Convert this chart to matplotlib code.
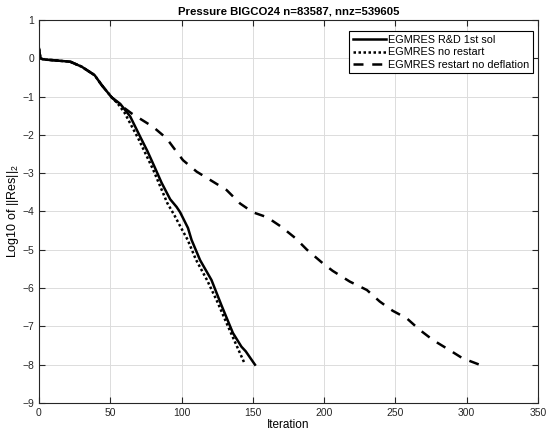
import matplotlib
matplotlib.use("Agg")
import matplotlib.pyplot as plt

plt.rcParams['font.family'] = ['Liberation Sans', 'DejaVu Sans']

# Solid: EGMRES R&D 1st sol
it_rd = [0, 1, 3, 10, 22, 30, 39, 44, 51, 57, 64, 71, 76, 81, 86, 92, 96.5, 99, 104.5, 107, 113, 121, 128, 136, 142, 145, 151.5]
res_rd = [0.25, 0.0, -0.03, -0.05, -0.09, -0.22, -0.44, -0.70, -1.02, -1.19, -1.52, -2.05, -2.42, -2.83, -3.25, -3.68, -3.88, -4.02, -4.43, -4.74, -5.27, -5.79, -6.45, -7.17, -7.53, -7.65, -8.0]

# Dotted: EGMRES no restart
it_nr = [0, 1, 3, 10, 22, 30, 39, 44, 51, 55, 60, 70, 80, 90, 95, 100, 104.3, 110, 118, 125, 132, 138, 144]
res_nr = [0.25, 0.0, -0.03, -0.05, -0.09, -0.22, -0.44, -0.70, -1.02, -1.17, -1.42, -2.12, -2.90, -3.78, -4.10, -4.45, -4.74, -5.25, -5.80, -6.35, -6.95, -7.45, -7.95]

# Dashed: EGMRES restart no deflation
it_nd = [0, 1, 3, 10, 22, 30, 39, 44, 51, 57, 65, 80, 89.5, 96.5, 101, 110.6, 122, 131.6, 141, 150, 160, 170, 180, 188,
         199, 206, 218, 230, 239, 248, 258, 267, 276.5, 288, 297, 309]
res_nd = [0.25, 0.0, -0.03, -0.05, -0.09, -0.22, -0.44, -0.70, -1.02, -1.22, -1.44, -1.79, -2.09, -2.44, -2.66, -2.96, -3.22, -3.44, -3.79, -4.02, -4.15, -4.40, -4.70, -5.0,
          -5.35, -5.55, -5.83, -6.05, -6.35, -6.59, -6.79, -7.09, -7.36, -7.62, -7.83, -8.0]

title = "Pressure BIGCO24 n=83587, nnz=539605"
labels = ["EGMRES R&D 1st sol", "EGMRES no restart", "EGMRES restart no deflation"]
xticks = [0, 50, 100, 150, 200, 250, 300, 350]
yticks = [1, 0, -1, -2, -3, -4, -5, -6, -7, -8, -9]

fig = plt.figure(figsize=(5.46, 4.30), dpi=100)
ax = fig.add_axes([0.0714, 0.0628, 0.9139, 0.8907])

ax.plot(it_rd, res_rd, color='black', lw=1.8, ls='-', label=labels[0])
ax.plot(it_nr, res_nr, color='black', lw=1.8, ls=(0, (1, 1)), label=labels[1])
ax.plot(it_nd, res_nd, color='black', lw=1.8, ls=(0, (4, 3.5)), label=labels[2])

ax.set_xlim(0, 350)
ax.set_ylim(-9, 1)
ax.set_xticks(xticks)
ax.set_yticks(yticks)
ax.tick_params(direction='in', top=True, right=True, labelsize=7.5, length=4, width=0.8, colors='#262626')
ax.grid(True, color='#dcdcdc', lw=0.7)
ax.set_axisbelow(True)
for s in ax.spines.values():
    s.set_linewidth(0.8)
    s.set_color('#262626')

ax.set_title(title, fontsize=8.2, fontweight='bold', pad=4)
ax.set_xlabel("Iteration", fontsize=8.5, labelpad=1)
ax.set_ylabel(r"Log10 of $\mathregular{||Res||_2}$", fontsize=9, labelpad=1)

leg = ax.legend(loc='upper right', fontsize=7.8, handlelength=3.1, handletextpad=0.15,
                borderpad=0.35, labelspacing=0.2, fancybox=False, framealpha=1,
                edgecolor='black', bbox_to_anchor=(0.99, 0.97), borderaxespad=0.0)
leg.get_frame().set_linewidth(0.8)

fig.savefig("out.png", dpi=100)
